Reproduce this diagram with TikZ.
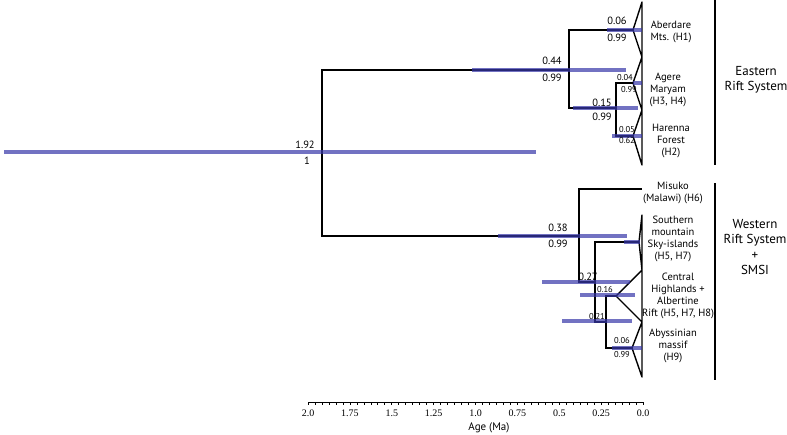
\documentclass[tikz,border=0pt]{standalone}
\usepackage{fontspec}
\setmainfont{PT Sans}
\newfontfamily\axisfont{Liberation Serif}
\usetikzlibrary{positioning}
\definecolor{hpdblue}{RGB}{56,56,169}

\begin{document}
\begin{tikzpicture}[
    x=1pt, y=-1pt,
    branch/.style={line width=1.4pt},
    tri/.style={line width=1.4pt, line join=round},
    hpd/.style={line width=3.4pt, hpdblue, opacity=0.71},
    leaf/.style={align=center, font=\fontsize{10.5}{12.2}\selectfont, inner sep=0pt},
    num/.style={font=\fontsize{10.5}{11}\selectfont, inner sep=0pt},
    smallnum/.style={font=\fontsize{8.5}{9}\selectfont, inner sep=0pt},
    clade/.style={align=center, font=\fontsize{13}{15.5}\selectfont, inner sep=0pt},
    tick/.style={line width=0.6pt},
]
\useasboundingbox (0,0) rectangle (787,434);

% Tree nodes
\coordinate (root) at (322,152);
\coordinate (east) at (569,70);
\coordinate (west) at (579,236);
\coordinate (aber) at (633,30);
\coordinate (eah) at (616,108);
\coordinate (agere) at (633,83);
\coordinate (haren) at (633,136);
\coordinate (misuko) at (642,189);
\coordinate (wtwo) at (595,282);
\coordinate (south) at (639,242);
\coordinate (wthree) at (606,322);
\coordinate (central) at (616,296);
\coordinate (abyss) at (632,348);

% Branches
\draw[branch] (root) |- (east);
\draw[branch] (root) |- (west);
\draw[branch] (east) |- (aber);
\draw[branch] (east) |- (eah);
\draw[branch] (eah) |- (agere);
\draw[branch] (eah) |- (haren);
\draw[branch] (west) |- (misuko);
\draw[branch] (west) |- (wtwo);
\draw[branch] (wtwo) |- (south);
\draw[branch] (wtwo) |- (wthree);
\draw[branch] (wthree) |- (central);
\draw[branch] (wthree) |- (abyss);

% Collapsed clades
\draw[tri] (642,2) -- (aber) -- (642,57) -- (agere) -- (642,110) -- (haren) -- (642,165) -- cycle;
\draw[tri] (642,215) -- (south) -- (642,270) -- (central) -- (642,322) -- (abyss) -- (642,377) -- cycle;

% 95% HPD bars
\foreach \ya/\xa/\xb in {152/4/536, 70/472/626, 30/607/642, 108/573/638, 83/633/642,
    136/612/642, 236/498/627, 242/624/640, 282/542/630, 321/562/632, 295/580/635, 348/612/642}
  \draw[hpd] (\xa,\ya) -- (\xb,\ya);

% Node ages and posteriors
\node[num] at (305,145) {1.92};
\node[num] at (307,161) {1};
\node[num] at (552,61) {0.44};
\node[num] at (552,78) {0.99};
\node[num] at (617,21) {0.06};
\node[num] at (617,38) {0.99};
\node[num] at (602,103) {0.15};
\node[num] at (602,117) {0.99};
\node[smallnum] at (625,78) {0.04};
\node[smallnum] at (629,90) {0.99};
\node[smallnum] at (627,130) {0.05};
\node[smallnum] at (627,141) {0.62};
\node[num] at (558,228) {0.38};
\node[num] at (558,244) {0.99};
\node[num] at (588,277) {0.27};
\node[smallnum] at (597,317) {0.21};
\node[smallnum] at (605,290) {0.16};
\node[smallnum] at (622,341) {0.06};
\node[smallnum] at (622,355) {0.99};

% Leaf labels
\node[leaf] (laber) at (671,32) {Aberdare\\Mts. (H1)};
\node[leaf] (lagere) at (668,90) {Agere\\Maryam\\(H3, H4)};
\node[leaf] (lharen) at (671,141) {Harenna\\Forest\\(H2)};
\node[leaf] (lmisuko) at (673,193) {Misuko\\(Malawi) (H6)};
\node[leaf] (lsouth) at (673,239) {Southern\\mountain\\Sky-islands\\(H5, H7)};
\node[leaf] (lcentral) at (678,296) {Central\\Highlands +\\Albertine\\Rift (H5, H7, H8)};
\node[leaf] (labyss) at (673,346) {Abyssinian\\massif\\(H9)};

% Clade bars and labels
\draw[line width=2pt] (715,0) -- (715,165);
\draw[line width=2pt] (715,183) -- (715,380);
\node[clade] (ers) at (756,80) {Eastern\\Rift System};
\node[clade] (wrs) at (755,247) {Western\\Rift System\\+\\SMSI};

% Time axis
\draw[tick] (308,402) -- (643,402);
\foreach \i in {0,...,48}
  \draw[tick] ({308+\i*6.979},402) -- ++(0,2.5);
\foreach \lab [count=\k from 0] in {2.0,1.75,1.5,1.25,1.0,0.75,0.5,0.25,0.0}
  \node[font=\axisfont\fontsize{10}{11}\selectfont] at ({308+\k*41.875},413) {\lab};
\node[font=\fontsize{11}{12}\selectfont] (axlabel) at (489,428) {Age (Ma)};
\end{tikzpicture}
\end{document}
